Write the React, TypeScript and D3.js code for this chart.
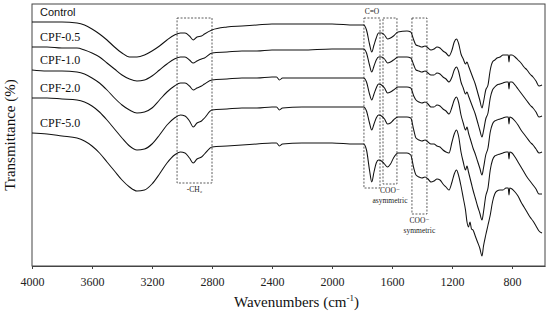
import React, { useEffect, useRef } from 'react';
import * as d3 from 'd3';

// wavenumber grid (cm-1) shared by every spectrum
const wavenumbers = [4000, 3900, 3800, 3700, 3650, 3600, 3550, 3500, 3450, 3400,
  3350, 3300, 3250, 3200, 3150, 3100, 3050, 3010, 2980, 2950,
  2925, 2900, 2870, 2850, 2800, 2700, 2600, 2500, 2400, 2370,
  2350, 2330, 2200, 2000, 1850,
  1790, 1770, 1750, 1735, 1720, 1705, 1690, 1670, 1650, 1630,
  1610, 1590, 1560, 1500, 1475, 1455, 1440, 1420, 1400, 1380,
  1360, 1340, 1320, 1300, 1280, 1260, 1240, 1220, 1200, 1185,
  1170, 1155, 1140, 1125, 1110, 1100, 1090, 1080, 1070, 1060,
  1045, 1030, 1015, 1000, 990, 975, 960, 945, 930, 915,
  900, 880, 860, 840, 825, 820, 815, 800, 780, 760,
  740, 720, 700, 680, 660, 640, 620, 600];

// transmittance, arbitrary units (stacked with offsets as in the figure)
const control = [244, 244, 244, 243, 241, 237, 232, 226, 219, 213,
  209, 209, 211, 215, 220, 226, 231, 233, 233, 230,
  226, 229, 230, 232, 236, 239, 240, 241, 242, 242,
  242, 242, 242, 242, 241,
  241, 236, 222, 214, 221, 228, 233, 233, 231, 227,
  228, 230, 234, 235, 234, 226, 221, 220, 219, 220,
  218, 216, 217, 219, 218, 215, 213, 210, 216, 224,
  227, 222, 212, 207, 202, 204, 200, 196, 192, 188,
  182, 174, 166, 158, 164, 176, 181, 196, 204, 206,
  208, 209, 211, 211, 211, 204, 211, 211, 209, 206,
  203, 199, 196, 192, 189, 185, 180, 181];

const cpf05 = [219, 219, 218, 218, 216, 213, 209, 203, 197, 191,
  187, 185, 186, 190, 196, 202, 207, 209, 209, 206,
  203, 205, 207, 208, 213, 214, 215, 215, 216, 216,
  216, 216, 216, 217, 217,
  217, 213, 201, 194, 200, 206, 209, 209, 207, 203,
  204, 206, 209, 209, 208, 201, 196, 195, 194, 195,
  193, 191, 191, 193, 192, 189, 187, 184, 189, 196,
  199, 194, 184, 178, 172, 174, 170, 166, 162, 158,
  152, 144, 136, 129, 135, 147, 153, 168, 176, 179,
  181, 182, 183, 184, 184, 177, 184, 184, 181, 177,
  173, 169, 165, 161, 158, 154, 149, 150];

const cpf10 = [196, 195, 195, 194, 192, 188, 183, 176, 168, 161,
  156, 153, 154, 158, 166, 174, 180, 183, 183, 180,
  176, 178, 180, 182, 186, 187, 188, 188, 189, 189,
  186, 188, 188, 188, 188,
  188, 184, 172, 166, 172, 178, 182, 181, 178, 173,
  174, 176, 179, 179, 178, 170, 166, 164, 163, 164,
  162, 159, 159, 161, 160, 157, 155, 152, 159, 166,
  169, 163, 151, 143, 136, 139, 133, 128, 123, 118,
  112, 105, 98, 91, 98, 111, 118, 134, 142, 145,
  146, 147, 148, 149, 149, 142, 149, 148, 145, 141,
  136, 132, 128, 124, 121, 117, 113, 114];

const cpf20 = [168, 168, 167, 166, 164, 160, 154, 146, 137, 128,
  120, 116, 117, 122, 131, 141, 148, 151, 150, 145,
  139, 143, 145, 148, 156, 157, 158, 158, 159, 159,
  156, 158, 159, 159, 159,
  159, 155, 143, 136, 142, 148, 151, 150, 147, 142,
  143, 146, 149, 149, 148, 136, 128, 126, 125, 126,
  124, 122, 122, 120, 119, 116, 114, 113, 124, 132,
  136, 129, 114, 104, 96, 100, 94, 88, 82, 76,
  68, 60, 53, 46, 54, 70, 78, 96, 106, 110,
  111, 112, 113, 114, 114, 107, 114, 113, 109, 104,
  99, 94, 89, 85, 81, 77, 72, 72];

const cpf50 = [133, 132, 130, 128, 125, 120, 113, 104, 95, 86,
  79, 75, 76, 82, 92, 103, 111, 114, 113, 108,
  103, 107, 109, 112, 119, 120, 121, 122, 123, 123,
  120, 122, 123, 123, 122,
  122, 116, 96, 84, 94, 103, 106, 105, 102, 99,
  102, 108, 113, 113, 111, 98, 91, 89, 88, 89,
  87, 84, 85, 87, 86, 82, 79, 76, 84, 92,
  96, 90, 80, 68, 56, 44, 39, 44, 37, 36,
  30, 24, 18, 10, 20, 31, 41, 51, 64, 72,
  75, 76, 76, 78, 78, 71, 78, 77, 74, 70,
  64, 59, 54, 49, 45, 40, 35, 33];

const seriesNames = ["Control", "CPF-0.5", "CPF-1.0", "CPF-2.0", "CPF-5.0"];
const seriesValues = [control, cpf05, cpf10, cpf20, cpf50];

const xTicks = [4000, 3600, 3200, 2800, 2400, 2000, 1600, 1200, 800];

// band boxes: [from, to] wavenumber, lower T, label lines
const boxFrom = [3033, 1787, 1660, 1467];
const boxTo = [2800, 1680, 1567, 1367];
const boxBottom = [83, 78, 82, 52];
const boxLabels = [["-CH\u2082"], ["C=O"], ["COO\u207B", "asymmetric"], ["COO\u207B", "symmetric"]];

const W = 550, H = 321;
const FONT = "Liberation Serif, Times New Roman, DejaVu Serif, serif";
const SANS = "Liberation Sans, Arial, sans-serif";

export default function App() {
  const ref = useRef(null);

  useEffect(() => {
    const svg = d3.select(ref.current);
    svg.selectAll("*").remove();

    const margin = { top: 4, right: 5, bottom: 55, left: 32 };
    const x = d3.scaleLinear().domain([4000, 580]).range([margin.left, W - margin.right]);
    const y = d3.scaleLinear().domain([0, 262]).range([H - margin.bottom, margin.top]);

    // frame
    svg.append("rect")
      .attr("x", x(4000)).attr("y", y(262))
      .attr("width", x(580) - x(4000)).attr("height", y(0) - y(262))
      .attr("fill", "none").attr("stroke", "#444").attr("stroke-width", 1);

    // x axis
    const xAxis = svg.append("g")
      .attr("transform", `translate(0,${y(0)})`)
      .call(d3.axisBottom(x).tickValues(xTicks).tickFormat(d3.format("d"))
        .tickSize(3).tickSizeOuter(0).tickPadding(8));
    xAxis.attr("font-family", null).attr("font-size", null);
    xAxis.select(".domain").attr("stroke", "#444");
    xAxis.selectAll(".tick line").attr("stroke", "#444");
    xAxis.selectAll("text")
      .style("font-family", FONT).style("font-size", "12px").attr("fill", "#222");

    // boxes
    boxFrom.forEach((f, i) => {
      svg.append("rect")
        .attr("x", x(f)).attr("y", y(248))
        .attr("width", x(boxTo[i]) - x(f))
        .attr("height", y(boxBottom[i]) - y(248))
        .attr("fill", "none").attr("stroke", "#333")
        .attr("stroke-width", 0.8).attr("stroke-dasharray", "2,1.5");
      const cx = (x(f) + x(boxTo[i])) / 2;
      const lines = boxLabels[i];
      const isTop = lines[0] === "C=O";
      lines.forEach((t, j) => {
        svg.append("text")
          .attr("x", cx)
          .attr("y", isTop ? y(252) : y(boxBottom[i]) + 9 + j * 10)
          .attr("text-anchor", "middle")
          .style("font-family", FONT).style("font-size", "7.5px").attr("fill", "#222")
          .text(t);
      });
    });

    // spectra
    const line = d3.line()
      .x((d) => x(d[0]))
      .y((d) => y(d[1]))
      .curve(d3.curveMonotoneX);

    seriesValues.forEach((vals, i) => {
      const pts = wavenumbers.map((w, k) => [w, vals[k]]);
      svg.append("path")
        .attr("d", line(pts))
        .attr("fill", "none")
        .attr("stroke", "#111")
        .attr("stroke-width", 1.05);
      // first label is set in a sans face in the original
      svg.append("text")
        .attr("x", x(4000) + 8)
        .attr("y", y(vals[0]) - 6.5)
        .style("font-family", i === 0 ? SANS : FONT)
        .style("font-size", i === 0 ? "11px" : "12px").attr("fill", "#111")
        .text(seriesNames[i]);
    });

    // axis titles
    const xt = svg.append("text")
      .attr("x", (x(4000) + x(580)) / 2 + 8)
      .attr("y", 307)
      .attr("text-anchor", "middle")
      .style("font-family", FONT).style("font-size", "15px").attr("fill", "#111");
    xt.append("tspan").text("Wavenumbers (cm");
    xt.append("tspan").style("font-size", "9px").attr("dy", -6).text("-1");
    xt.append("tspan").attr("dy", 6).text(")");

    svg.append("text")
      .attr("transform", `translate(15,${(y(0) + y(262)) / 2}) rotate(-90)`)
      .attr("text-anchor", "middle")
      .style("font-family", FONT).style("font-size", "15px").attr("fill", "#111")
      .text("Transmittance (%)");
  }, []);

  return (
    <svg ref={ref} width={W} height={H}
      style={{ position: 'absolute', left: 0, top: 0, background: '#fff' }} />
  );
}
